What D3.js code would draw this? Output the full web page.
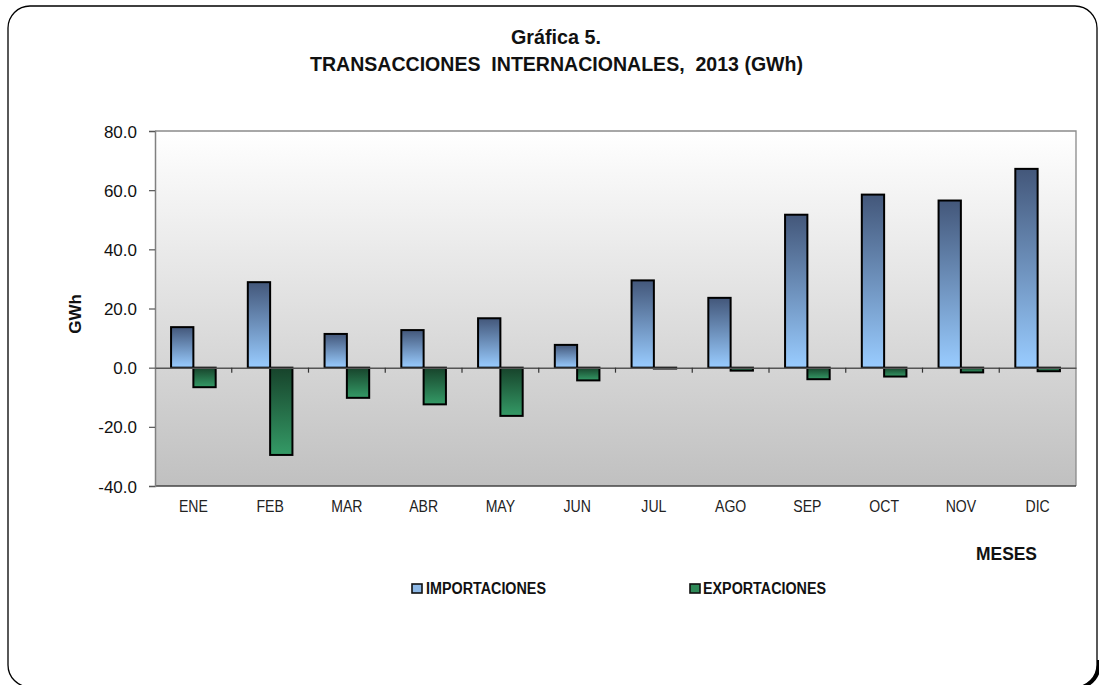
<!DOCTYPE html>
<html><head><meta charset="utf-8">
<script src="https://d3js.org/d3.v7.min.js"></script>
<style>html,body{margin:0;padding:0;background:#fff;}svg{display:block;}</style>
</head><body>
<script>
const months = ["ENE","FEB","MAR","ABR","MAY","JUN","JUL","AGO","SEP","OCT","NOV","DIC"];
const importaciones = [13.7, 28.9, 11.4, 12.7, 16.7, 7.7, 29.5, 23.6, 51.7, 58.5, 56.5, 67.2];
const exportaciones = [-6.6, -29.5, -10.2, -12.4, -16.3, -4.3, -0.3, -1.0, -3.9, -3.0, -1.6, -1.2];
const yTicks = [-40, -20, 0, 20, 40, 60, 80];
const seriesNames = ["IMPORTACIONES", "EXPORTACIONES"];

const W = 1099, H = 685;
const svg = d3.select("body").append("svg").attr("width", W).attr("height", H);
const defs = svg.append("defs");
const font = "'Liberation Sans', Arial, sans-serif";

// gradients
const bg = defs.append("linearGradient").attr("id","bg").attr("x1",0).attr("y1",0).attr("x2",0).attr("y2",1);
bg.append("stop").attr("offset","0%").attr("stop-color","#ffffff");
bg.append("stop").attr("offset","100%").attr("stop-color","#c0c0c0");
const gi = defs.append("linearGradient").attr("id","gImp").attr("x1",0).attr("y1",0).attr("x2",0).attr("y2",1);
gi.append("stop").attr("offset","0%").attr("stop-color","#43577a");
gi.append("stop").attr("offset","100%").attr("stop-color","#99ccff");
const ge = defs.append("linearGradient").attr("id","gExp").attr("x1",0).attr("y1",0).attr("x2",0).attr("y2",1);
ge.append("stop").attr("offset","0%").attr("stop-color","#17432b");
ge.append("stop").attr("offset","100%").attr("stop-color","#349a66");

// frame
svg.append("path")
  .attr("d","M1099,660 Q1099,686 1072,688")
  .attr("fill","none").attr("stroke","#000").attr("stroke-width",5);
svg.append("rect").attr("x",8).attr("y",6).attr("width",1089).attr("height",681)
  .attr("rx",22).attr("ry",22).attr("fill","#fff").attr("stroke","#000").attr("stroke-width",1.3);

const plot = {x0:155, x1:1076, y0:131, y1:486};
const x = d3.scaleBand().domain(months).range([plot.x0, plot.x1]).paddingInner(0).paddingOuter(0);
const sub = d3.scaleBand().domain(seriesNames).range([0, x.bandwidth()]).paddingInner(0).paddingOuter(0.72);
const y = d3.scaleLinear().domain([-40, 80]).range([plot.y1, plot.y0]);

// plot area background
svg.append("rect").attr("x",plot.x0).attr("y",plot.y0).attr("width",plot.x1-plot.x0).attr("height",plot.y1-plot.y0)
  .attr("fill","url(#bg)");
svg.append("path").attr("d",`M${plot.x0},${plot.y0}H${plot.x1}V${plot.y1}`).attr("fill","none").attr("stroke","#8a8a8a").attr("stroke-width",1.3);
svg.append("line").attr("x1",plot.x0).attr("x2",plot.x1).attr("y1",plot.y1).attr("y2",plot.y1).attr("stroke","#444").attr("stroke-width",1.5);

// y axis
const fmt = d3.format(".1f");
const yAxis = d3.axisLeft(y).tickValues(yTicks).tickFormat(d => fmt(d).replace("\u2212","-")).tickSize(6).tickPadding(12);
const ya = svg.append("g").attr("transform",`translate(${plot.x0},0)`).call(yAxis);
ya.select(".domain").attr("stroke","#808080").attr("stroke-width",1.5);
ya.selectAll(".tick line").attr("stroke","#555").attr("stroke-width",1.2);
ya.selectAll(".tick text").attr("font-family",font).attr("font-size",17).attr("fill","#111").attr("dy","0.36em");

// bars
const groups = svg.append("g").selectAll("g").data(months).join("g")
  .attr("transform", d => `translate(${x(d)},0)`);
groups.append("rect")
  .attr("x", sub("IMPORTACIONES")).attr("width", sub.bandwidth())
  .attr("y", (d,i) => y(Math.max(0, importaciones[i])))
  .attr("height", (d,i) => Math.abs(y(importaciones[i]) - y(0)))
  .attr("fill","url(#gImp)").attr("stroke","#000").attr("stroke-width",2);
groups.append("rect")
  .attr("x", sub("EXPORTACIONES")).attr("width", sub.bandwidth())
  .attr("y", (d,i) => y(Math.max(0, exportaciones[i])))
  .attr("height", (d,i) => Math.abs(y(exportaciones[i]) - y(0)))
  .attr("fill","url(#gExp)").attr("stroke","#000").attr("stroke-width",2);

// zero (category) axis
const xAxis = d3.axisBottom(x).tickSize(0).tickFormat("");
const xa = svg.append("g").attr("transform",`translate(0,${y(0)})`).call(xAxis);
xa.select(".domain").attr("stroke","#555").attr("stroke-width",1.5);
svg.append("g").selectAll("line").data(months.slice(1)).join("line")
  .attr("x1", d => x(d)).attr("x2", d => x(d))
  .attr("y1", y(0)).attr("y2", y(0)+5).attr("stroke","#333").attr("stroke-width",1.2);

// category labels (condensed)
svg.append("g").selectAll("text").data(months).join("text")
  .attr("transform", d => `translate(${x(d)+x.bandwidth()/2},512) scale(0.88,1)`)
  .attr("text-anchor","middle").attr("font-family",font).attr("font-size",16).attr("fill","#222")
  .text(d => d);

function condText(txt, x0, x1, yb, size, weight) {
  return svg.append("text").attr("x", x0).attr("y", yb)
    .attr("font-family", font).attr("font-size", size).attr("font-weight", weight).attr("fill","#111")
    .attr("textLength", x1 - x0).attr("lengthAdjust","spacingAndGlyphs")
    .style("white-space","pre").text(txt);
}
condText("Gráfica 5.", 511, 601, 44, 21, "bold");
condText("TRANSACCIONES  INTERNACIONALES,  2013 (GWh)", 310, 803, 71, 21, "bold");
condText("MESES", 976, 1037, 560, 19, "bold");

// y title
svg.append("text").attr("transform","translate(81,314) rotate(-90)")
  .attr("text-anchor","middle").attr("font-family",font).attr("font-size",17).attr("font-weight","bold").attr("fill","#111")
  .text("GWh");

// legend
const legend = [
  {name: seriesNames[0], fill:"#8db8e6", bx:412, tx0:426, tx1:546},
  {name: seriesNames[1], fill:"#2f8a58", bx:690, tx0:703, tx1:826}
];
legend.forEach(l => {
  svg.append("rect").attr("x", l.bx).attr("y",584).attr("width",10).attr("height",9)
    .attr("fill", l.fill).attr("stroke","#111").attr("stroke-width",1.6);
  condText(l.name, l.tx0, l.tx1, 594, 16, "bold");
});
</script>
</body></html>
